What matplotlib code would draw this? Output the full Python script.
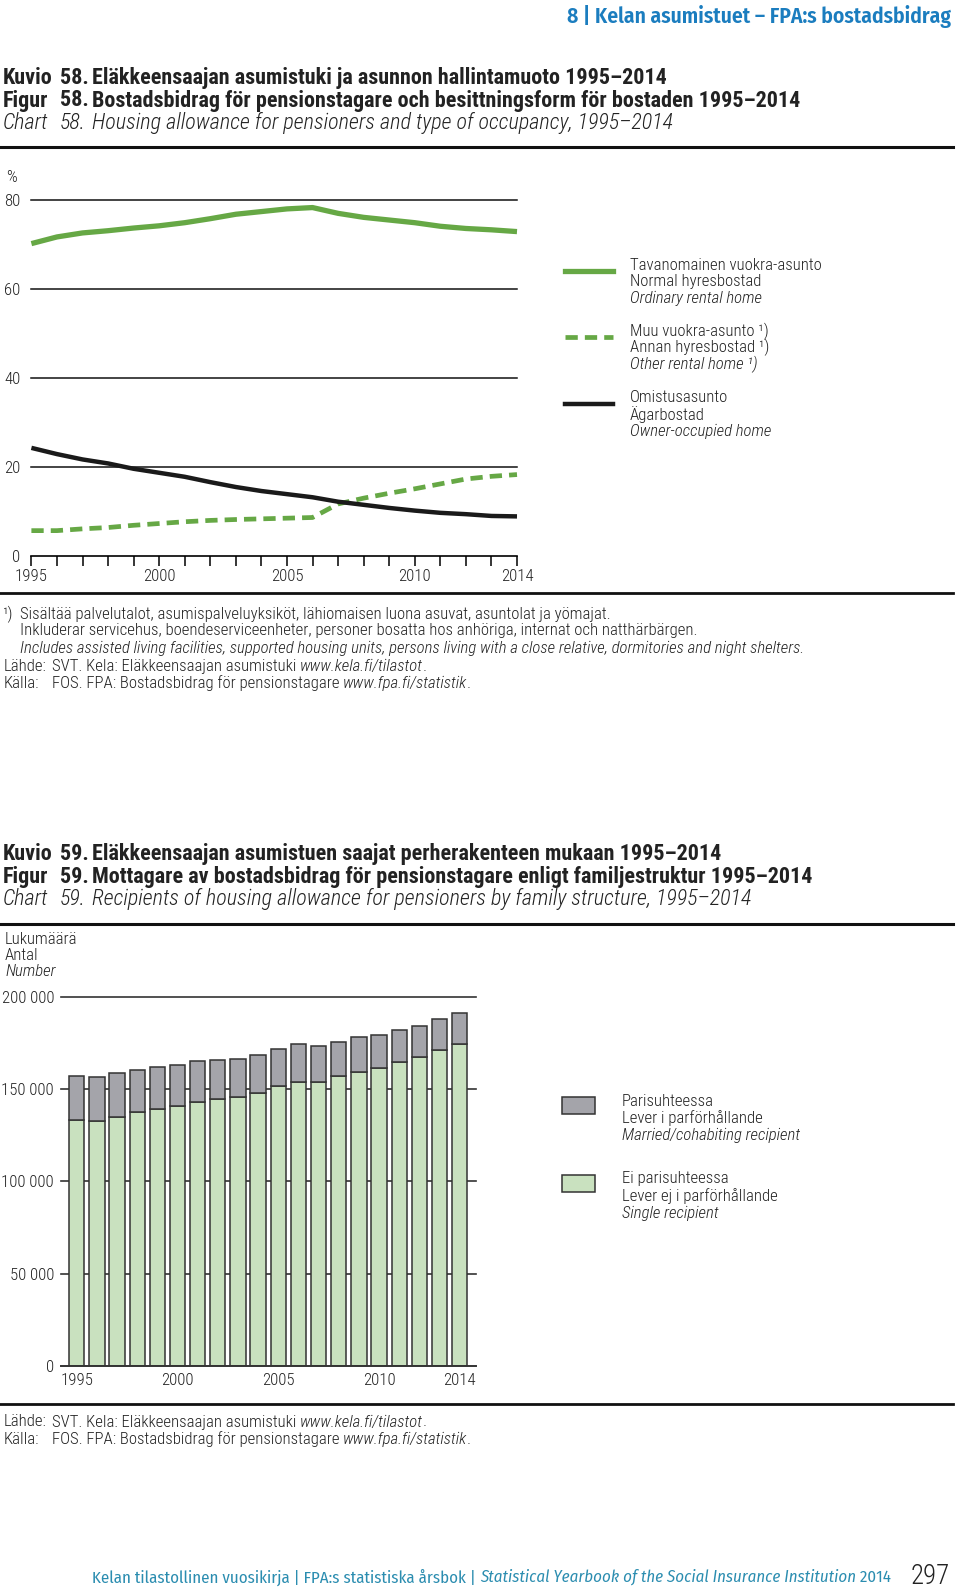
import matplotlib
matplotlib.use('Agg')
import matplotlib.pyplot as plt
import numpy as np
from matplotlib.lines import Line2D
from matplotlib.patches import Rectangle

plt.rcParams['font.family'] = ['Roboto Condensed', 'DejaVu Sans']
plt.rcParams['font.weight'] = 300
plt.rcParams['axes.unicode_minus'] = False

W, H = 960, 1589
PT = 0.72  # points per pixel at dpi 100

# ---- data, chart 58 (%)
years = list(range(1995, 2015))
ordinary_rental = [70.2, 71.7, 72.6, 73.1, 73.7, 74.2, 74.9, 75.8, 76.8, 77.4,
                   78.0, 78.3, 77.0, 76.1, 75.5, 74.9, 74.1, 73.6, 73.3, 72.9]
other_rental = [5.7, 5.7, 6.1, 6.4, 6.9, 7.3, 7.7, 8.0, 8.2, 8.35,
                8.5, 8.65, 11.7, 13.0, 14.1, 15.1, 16.2, 17.3, 17.9, 18.3]
owner_occupied = [24.3, 22.9, 21.7, 20.8, 19.6, 18.7, 17.8, 16.6, 15.5, 14.6,
                  13.9, 13.2, 12.2, 11.5, 10.8, 10.2, 9.7, 9.4, 9.0, 8.9]

# ---- data, chart 59 (number of recipients)
single = [133100, 132700, 135100, 137400, 139400, 141000, 143200, 144700, 145600, 148100,
          151700, 154100, 153900, 157000, 159500, 161700, 164900, 167400, 171100, 174500]
total = [157300, 156400, 158600, 160600, 162000, 163300, 165300, 166000, 166500, 168700,
         171800, 174300, 173600, 175400, 178100, 179400, 182300, 184300, 187900, 191500]
couple = [t - s for t, s in zip(total, single)]

label_years = [1995, 2000, 2005, 2010, 2014]

GREEN = '#66a845'
BAR_GREEN = '#c9e1bf'
BAR_GRAY = '#a4a4aa'
EDGE = '#333333'
BLUE = '#1b7dbf'
TEAL = '#2b8db0'
TXT = '#222222'
FIRA = ['Fira Sans Condensed', 'DejaVu Sans']

fig = plt.figure(figsize=(W / 100, H / 100), dpi=100)
renderer = fig.canvas.get_renderer()


def fx(x):
    return x / W


def fy(y):
    return 1 - y / H


def width_of(s, size, **kw):
    t = fig.text(0, 0, s, fontsize=size, **kw)
    w = t.get_window_extent(renderer=renderer).width
    t.remove()
    return w


def fit_size(s, target, size=10, **kw):
    return size * target / width_of(s, size, **kw)


def axes_px(left, top, right, bottom):
    return fig.add_axes([fx(left), fy(bottom), (right - left) / W, (bottom - top) / H])


def txt(x, y, s, size, **kw):
    kw.setdefault('color', TXT)
    kw.setdefault('va', 'center')
    return fig.text(fx(x), fy(y), s, fontsize=size, **kw)


def runs(x, y, parts, size, color=TXT, **kw):
    cx = x
    for s, st in parts:
        t = fig.text(fx(cx), fy(y), s, fontsize=size, style=st, color=color,
                     va='center', ha='left', **kw)
        cx += t.get_window_extent(renderer=renderer).width


def rule(y, lw=2.2):
    fig.add_artist(Line2D([fx(0), fx(953)], [fy(y), fy(y)], color='#111111', lw=lw))


# font sizes measured against the reference line lengths
BODY = 1.04 * fit_size('Includes assisted living facilities, supported housing units, persons living '
                       'with a close relative, dormitories and night shelters.', 757, style='italic')
HEAD = fit_size('Eläkkeensaajan asumistuki ja asunnon hallintamuoto 1995–2014', 575, weight='bold')
TOP = fit_size('8 | Kelan asumistuet – FPA:s bostadsbidrag', 386, family=FIRA, weight=600)
FOOT = fit_size('Kelan tilastollinen vuosikirja | FPA:s statistiska årsbok | '
                'Statistical Yearbook of the Social Insurance Institution 2014', 784, family=FIRA)

# ---- page header
txt(951, 17, '8 | Kelan asumistuet – FPA:s bostadsbidrag', TOP, color=BLUE,
    weight=600, family=FIRA, ha='right')


def heading(y0, num, fi, sv, en):
    for i, (lab, s, kw) in enumerate([('Kuvio', fi, dict(weight='bold')),
                                      ('Figur', sv, dict(weight='bold')),
                                      ('Chart', en, dict(style='italic'))]):
        yy = y0 + i * 22.5
        txt(3, yy, lab, HEAD, **kw)
        txt(60, yy, num + '.', HEAD, **kw)
        txt(92, yy, s, HEAD, **kw)


heading(78, '58', 'Eläkkeensaajan asumistuki ja asunnon hallintamuoto 1995–2014',
        'Bostadsbidrag för pensionstagare och besittningsform för bostaden 1995–2014',
        'Housing allowance for pensioners and type of occupancy, 1995–2014')
rule(147)

# ---- chart 58
ax = axes_px(31.4, 200, 517, 556)
ax.set_xlim(1995, 2014)
ax.set_ylim(0, 80)
for v in [20, 40, 60, 80]:
    ax.axhline(v, color='#111111', lw=1.1, zorder=1, clip_on=False)
ax.plot(years, ordinary_rental, color=GREEN, lw=3.8, solid_capstyle='butt',
        zorder=3, clip_on=False)
ax.plot(years, other_rental, color=GREEN, lw=3.4, linestyle=(0, (2.6, 1.5)),
        dash_capstyle='butt', zorder=3, clip_on=False)
ax.plot(years, owner_occupied, color='#1a1a1a', lw=3.2, solid_capstyle='butt',
        zorder=4, clip_on=False)
for sp in ['top', 'right', 'left']:
    ax.spines[sp].set_visible(False)
ax.spines['bottom'].set_linewidth(1.2)
ax.set_xticks(years, minor=True)
ax.set_xticks(label_years)
ax.set_xticklabels([str(y) for y in label_years], fontsize=BODY, color=TXT)
ax.tick_params(axis='x', which='both', direction='out', length=10 * PT, width=1.1,
               pad=3 * PT)
ax.set_yticks([0, 20, 40, 60, 80])
ax.set_yticklabels(['0', '20', '40', '60', '80'], fontsize=BODY, color=TXT)
ax.tick_params(axis='y', length=0, pad=11 * PT)
ax.patch.set_visible(False)
txt(6, 177, '%', BODY)

# legend 58
dash = (0, (2.6, 1.5))
leg = [(271, dict(color=GREEN, lw=3.8),
        ['Tavanomainen vuokra-asunto', 'Normal hyresbostad', 'Ordinary rental home']),
       (337, dict(color=GREEN, lw=3.4, linestyle=dash),
        ['Muu vuokra-asunto ¹)', 'Annan hyresbostad ¹)', 'Other rental home ¹)']),
       (404, dict(color='#1a1a1a', lw=3.2),
        ['Omistusasunto', 'Ägarbostad', 'Owner-occupied home'])]
for ly, style, labels in leg:
    fig.add_artist(Line2D([fx(565), fx(613)], [fy(ly), fy(ly)], **style))
    for i, lab in enumerate(labels):
        txt(630, ly - 6 + i * 16.8, lab, BODY, style='italic' if i == 2 else 'normal')

rule(593, lw=2.0)

# footnotes 58
txt(3, 614, '¹)', BODY)
txt(20, 614, 'Sisältää palvelutalot, asumispalveluyksiköt, lähiomaisen luona asuvat, '
    'asuntolat ja yömajat.', BODY)
txt(20, 631, 'Inkluderar servicehus, boendeserviceenheter, personer bosatta hos anhöriga, '
    'internat och natthärbärgen.', BODY)
txt(20, 648, 'Includes assisted living facilities, supported housing units, persons living '
    'with a close relative, dormitories and night shelters.', BODY, style='italic')

SRC_X = max(37.5, 4 + width_of('Lähde:', BODY) + 5)


def sources(y):
    txt(4, y, 'Lähde:', BODY)
    runs(SRC_X, y, [('SVT. Kela: Eläkkeensaajan asumistuki ', 'normal'),
                    ('www.kela.fi/tilastot', 'italic'), ('.', 'normal')], BODY)
    txt(4, y + 17, 'Källa:', BODY)
    runs(SRC_X, y + 17, [('FOS. FPA: Bostadsbidrag för pensionstagare ', 'normal'),
                         ('www.fpa.fi/statistik', 'italic'), ('.', 'normal')], BODY)


sources(666)

# ---- chart 59
heading(854, '59', 'Eläkkeensaajan asumistuen saajat perherakenteen mukaan 1995–2014',
        'Mottagare av bostadsbidrag för pensionstagare enligt familjestruktur 1995–2014',
        'Recipients of housing allowance for pensioners by family structure, 1995–2014')
rule(923.5)

txt(5, 940, 'Lukumäärä', BODY)
txt(5, 956, 'Antal', BODY)
txt(5, 972, 'Number', BODY, style='italic')

ax2 = axes_px(61, 997, 476, 1365.7)
ax2.set_xlim(1994.22, 2014.81)
ax2.set_ylim(0, 200000)
for v in [50000, 100000, 150000, 200000]:
    ax2.axhline(v, color='#333333', lw=1.2, zorder=0, clip_on=False)
ax2.bar(years, single, width=0.76, color=BAR_GREEN, edgecolor=EDGE, lw=1.1, zorder=2)
ax2.bar(years, couple, bottom=single, width=0.76, color=BAR_GRAY, edgecolor=EDGE,
        lw=1.1, zorder=2)
for sp in ['top', 'right', 'left']:
    ax2.spines[sp].set_visible(False)
ax2.spines['bottom'].set_linewidth(1.4)
ax2.spines['bottom'].set_color('#333333')
ax2.spines['bottom'].set_zorder(3)
ax2.set_xticks(label_years)
ax2.set_xticklabels([str(y) for y in label_years], fontsize=BODY, color=TXT)
ax2.tick_params(axis='x', length=0, pad=7 * PT)
ax2.set_yticks([0, 50000, 100000, 150000, 200000])
ax2.set_yticklabels(['0', '50 000', '100 000', '150 000', '200 000'], fontsize=BODY, color=TXT)
ax2.tick_params(axis='y', length=0, pad=7 * PT)
ax2.patch.set_visible(False)

# legend 59
leg2 = [(1097, BAR_GRAY, ['Parisuhteessa', 'Lever i parförhållande', 'Married/cohabiting recipient']),
        (1174.5, BAR_GREEN, ['Ei parisuhteessa', 'Lever ej i parförhållande', 'Single recipient'])]
for top, col, labels in leg2:
    fig.add_artist(Rectangle((fx(562), fy(top + 17)), 33 / W, 17 / H, facecolor=col,
                             edgecolor=EDGE, lw=1.1))
    for i, lab in enumerate(labels):
        txt(622, top + 4 + i * 17.2, lab, BODY, style='italic' if i == 2 else 'normal')

rule(1404, lw=2.0)
sources(1422)

# ---- page footer
runs(92, 1577, [('Kelan tilastollinen vuosikirja | FPA:s statistiska årsbok | ', 'normal'),
                ('Statistical Yearbook of the Social Insurance Institution', 'italic'),
                (' 2014', 'normal')], FOOT, color=TEAL, family=FIRA, weight=400)
txt(930, 1576, '297', BODY * 1.6, ha='center')

fig.savefig('out.png', dpi=100)
